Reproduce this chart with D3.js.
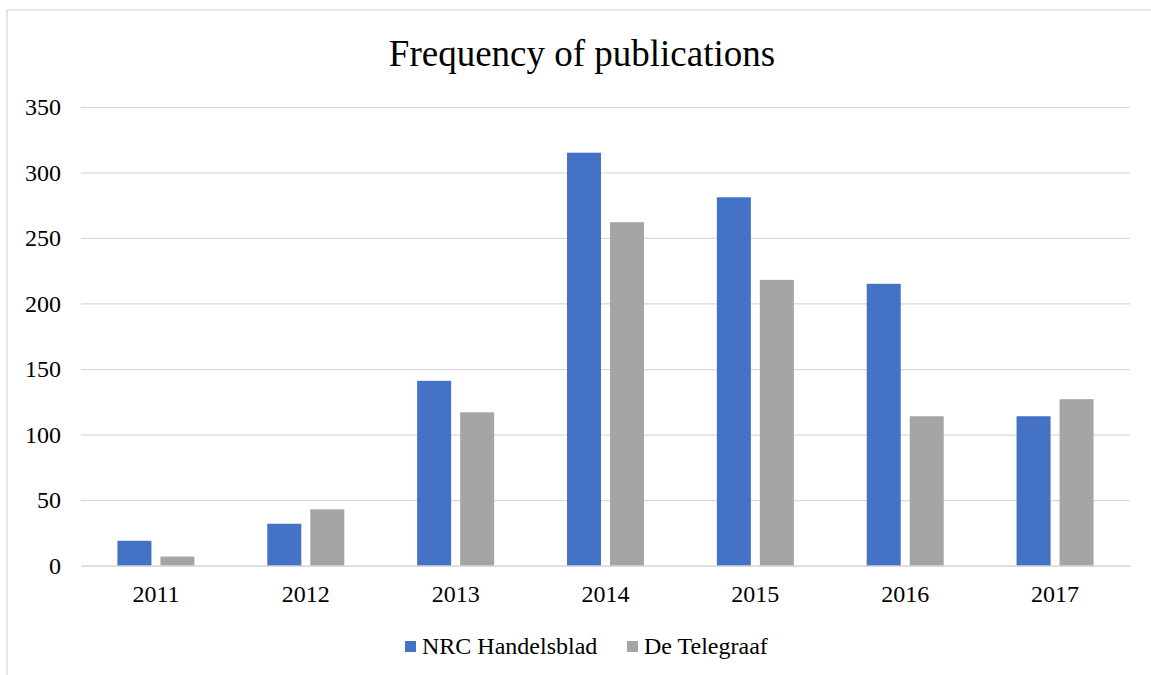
<!DOCTYPE html>
<html><head><meta charset="utf-8">
<script src="https://cdn.jsdelivr.net/npm/d3@7"></script>
<style>body{margin:0;background:#fff}svg{display:block}</style>
</head><body>
<script>
const years = ["2011","2012","2013","2014","2015","2016","2017"];
const seriesNames = ["NRC Handelsblad","De Telegraaf"];
const nrc = [19,32,141,315,281,215,114];
const telegraaf = [7,43,117,262,218,114,127];
const yTicks = [0,50,100,150,200,250,300,350];
const colors = ["#4472C4","#A5A5A5"];
const title = "Frequency of publications";

const W=1151,H=675;
const svg=d3.select("body").append("svg").attr("width",W).attr("height",H);
const font="Liberation Serif, serif";

svg.append("rect").attr("x",7).attr("y",10).attr("width",W+20).attr("height",H+20)
  .attr("fill","#fff").attr("stroke","#d9d9d9").attr("stroke-width",1.3);

const pLeft=81,pRight=1130,pTop=106.8,pBottom=565.7;
const y=d3.scaleLinear().domain([0,350]).range([pBottom,pTop]);
const x0=d3.scaleBand().domain(years).range([pLeft,pRight]).padding(0);
const x1=d3.scaleBand().domain(seriesNames).range([0,x0.bandwidth()]).paddingInner(0.209).paddingOuter(0.847);

const yAxis=svg.append("g").attr("transform",`translate(${pLeft},0)`)
  .call(d3.axisLeft(y).tickValues(yTicks).tickSize(-(pRight-pLeft)).tickPadding(20));
yAxis.select(".domain").remove();
yAxis.selectAll(".tick line").attr("stroke","#d9d9d9").attr("stroke-width",1.3);
yAxis.selectAll(".tick text").attr("font-family",font).attr("font-size",24).attr("fill","#000");

const data=years.map((yr,i)=>({year:yr,values:[{s:seriesNames[0],v:nrc[i]},{s:seriesNames[1],v:telegraaf[i]}]}));
const g=svg.append("g");
g.selectAll("g.grp").data(data).join("g").attr("class","grp")
  .attr("transform",d=>`translate(${x0(d.year)},0)`)
  .selectAll("rect").data(d=>d.values).join("rect")
  .attr("x",d=>x1(d.s)).attr("width",x1.bandwidth())
  .attr("y",d=>y(d.v)).attr("height",d=>y(0)-y(d.v))
  .attr("fill",(d,i)=>colors[i]);

const xAxis=svg.append("g").attr("transform",`translate(0,${pBottom})`)
  .call(d3.axisBottom(x0).tickSize(0).tickPadding(0));
xAxis.select(".domain").attr("stroke","#d9d9d9").attr("stroke-width",1.3);
xAxis.selectAll(".tick text").attr("y",36.5).attr("dy",0)
  .attr("font-family",font).attr("font-size",24).attr("fill","#000");

svg.append("text").attr("x",582).attr("y",66).attr("text-anchor","middle")
  .attr("font-family",font).attr("font-size",37).attr("fill","#000").text(title);

const legendX=[405,627];
const lg=svg.append("g");
seriesNames.forEach((s,i)=>{
  lg.append("rect").attr("x",legendX[i]).attr("y",641).attr("width",11).attr("height",11).attr("fill",colors[i]);
  lg.append("text").attr("x",legendX[i]+17).attr("y",653.5).attr("font-family",font).attr("font-size",24).attr("fill","#000").text(s);
});
</script>
</body></html>
